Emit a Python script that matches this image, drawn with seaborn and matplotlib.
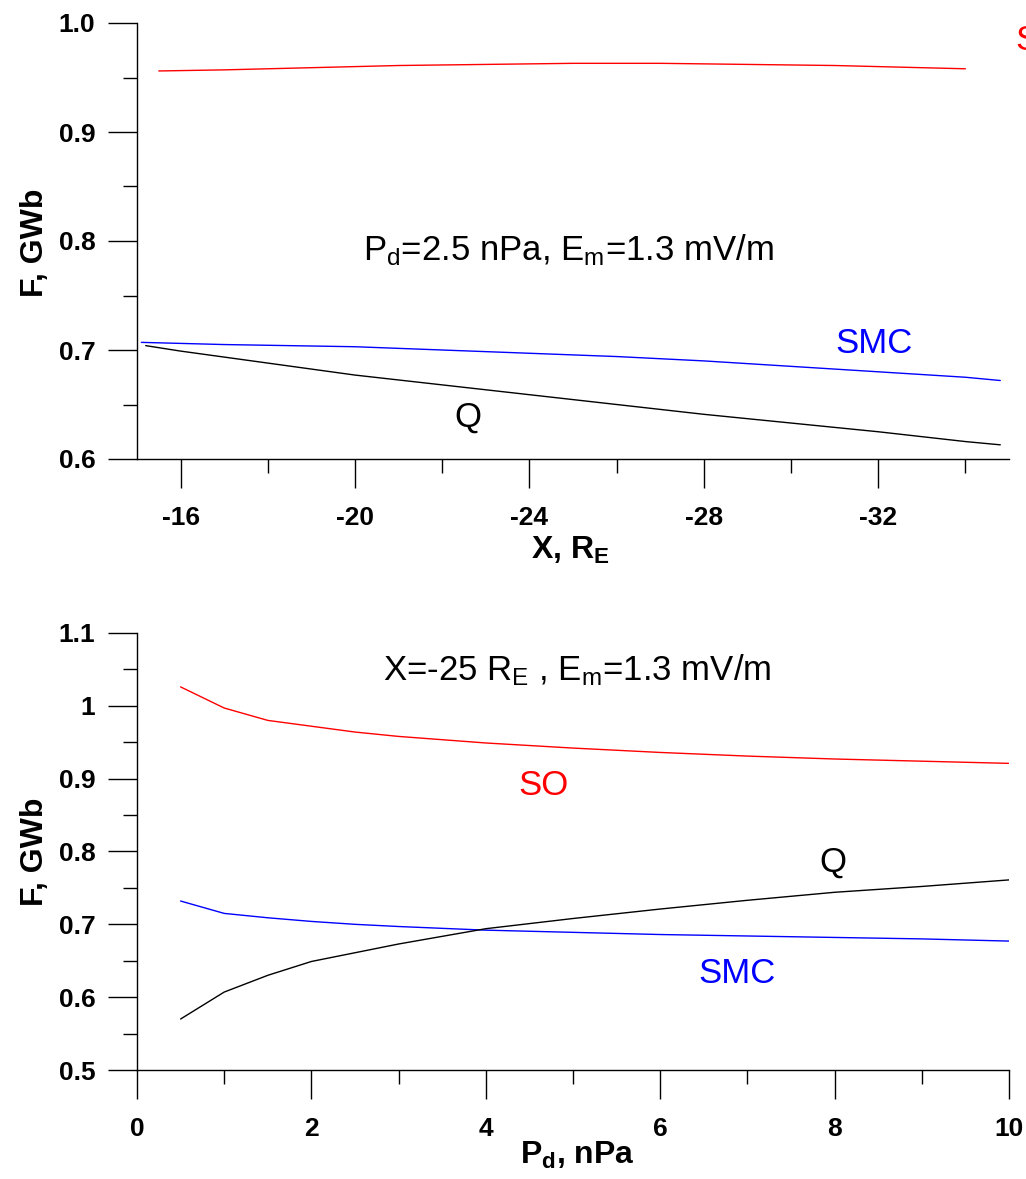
import matplotlib
matplotlib.use("Agg")
import matplotlib.pyplot as plt
from matplotlib.ticker import FixedLocator, MultipleLocator
import pandas as pd
import seaborn as sns

# ── Data ──────────────────────────────────────────────────────
# top panel: flux vs distance X (R_E), Pd = 2.5 nPa
x_so  = [-15.5, -17, -19, -21, -23, -25, -27, -29, -31, -33, -34]
f_so  = [0.956, 0.957, 0.959, 0.961, 0.962, 0.963, 0.963, 0.962, 0.961, 0.959, 0.958]
x_smc = [-15.1, -17, -20, -22, -24, -26, -28, -30, -32, -34, -34.8]
f_smc = [0.707, 0.705, 0.703, 0.700, 0.697, 0.694, 0.690, 0.685, 0.680, 0.675, 0.672]
x_q   = [-15.2, -16, -18, -20, -22, -24, -26, -28, -30, -32, -34, -34.8]
f_q   = [0.704, 0.699, 0.688, 0.677, 0.668, 0.659, 0.650, 0.641, 0.633, 0.625, 0.616, 0.613]

# bottom panel: flux vs dynamic pressure Pd (nPa), X = -25 R_E
pd_vals = [0.5, 1, 1.5, 2, 2.5, 3, 4, 5, 6, 7, 8, 9, 10]
g_so    = [1.026, 0.997, 0.980, 0.972, 0.964, 0.958, 0.949, 0.942, 0.936, 0.931, 0.927, 0.924, 0.921]
g_q     = [0.570, 0.607, 0.630, 0.649, 0.661, 0.673, 0.694, 0.708, 0.721, 0.733, 0.744, 0.752, 0.761]
g_smc   = [0.732, 0.715, 0.709, 0.704, 0.700, 0.697, 0.692, 0.689, 0.686, 0.684, 0.682, 0.680, 0.677]

top_yticks    = [0.6, 0.7, 0.8, 0.9, 1.0]
top_yticklbl  = ["0.6", "0.7", "0.8", "0.9", "1.0"]
bot_yticks    = [0.5, 0.6, 0.7, 0.8, 0.9, 1.0, 1.1]
bot_yticklbl  = ["0.5", "0.6", "0.7", "0.8", "0.9", "1", "1.1"]

COLORS = {"SO": "#ff0000", "SMC": "#0000ff", "Q": "#000000"}

# ── Style ─────────────────────────────────────────────────────
sns.set_style("ticks")
plt.rcParams["font.family"] = ["Liberation Sans", "DejaVu Sans"]
plt.rcParams["mathtext.default"] = "regular"
plt.rcParams["text.color"] = "black"
plt.rcParams["axes.labelcolor"] = "black"
plt.rcParams["xtick.color"] = "black"
plt.rcParams["ytick.color"] = "black"

fig = plt.figure(figsize=(10.26, 11.79), dpi=100)
ax1 = fig.add_axes([137 / 1026, 1 - 459 / 1179, 872 / 1026, 436 / 1179])
ax2 = fig.add_axes([137 / 1026, 1 - 1070 / 1179, 872 / 1026, 437 / 1179])

top = pd.concat([
    pd.DataFrame({"x": x_so, "f": f_so, "s": "SO"}),
    pd.DataFrame({"x": x_smc, "f": f_smc, "s": "SMC"}),
    pd.DataFrame({"x": x_q, "f": f_q, "s": "Q"}),
])
bot = pd.concat([
    pd.DataFrame({"x": pd_vals, "f": g_so, "s": "SO"}),
    pd.DataFrame({"x": pd_vals, "f": g_smc, "s": "SMC"}),
    pd.DataFrame({"x": pd_vals, "f": g_q, "s": "Q"}),
])

sns.lineplot(data=top, x="x", y="f", hue="s", palette=COLORS, sort=False,
             estimator=None, linewidth=1.0, legend=False, ax=ax1)
sns.lineplot(data=bot, x="x", y="f", hue="s", palette=COLORS, sort=False,
             estimator=None, linewidth=1.0, legend=False, ax=ax2)


def style_axes(ax):
    sns.despine(ax=ax)
    for sp in ("left", "bottom"):
        ax.spines[sp].set_linewidth(1.0)
        ax.spines[sp].set_color("black")
    ax.tick_params(which="major", length=21, width=1.0, color="black",
                   labelsize=19, labelcolor="black")
    ax.tick_params(which="minor", length=10, width=1.0, color="black")
    ax.tick_params(axis="x", which="major", pad=13)
    ax.tick_params(axis="y", which="major", pad=9)
    for lbl in ax.get_xticklabels() + ax.get_yticklabels():
        lbl.set_fontweight("bold")


# top panel
ax1.set_xlim(-15, -35)
ax1.set_ylim(0.6, 1.0)
ax1.set_xticks([-16, -20, -24, -28, -32], ["-16", "-20", "-24", "-28", "-32"])
ax1.xaxis.set_minor_locator(FixedLocator([-18, -22, -26, -30, -34]))
ax1.set_yticks(top_yticks, top_yticklbl)
ax1.yaxis.set_minor_locator(MultipleLocator(0.05))
style_axes(ax1)
ax1.set_xlabel("X, R$_E$", fontsize=23, fontweight="bold")
ax1.set_ylabel("F, GWb", fontsize=23, fontweight="bold")
ax1.xaxis.set_label_coords(0.497, -0.175)
ax1.yaxis.set_label_coords(-0.1, 0.495)

ax1.text(-24.9, 0.792, "P$_d$=2.5 nPa, E$_m$=1.3 mV/m", fontsize=25,
         ha="center", va="center")
ax1.text(-22.6, 0.638, "Q", fontsize=25, ha="center", va="center")
ax1.text(-31.9, 0.706, "SMC", fontsize=25, ha="center", va="center",
         color=COLORS["SMC"])
# label of the SO curve sits past the right edge, as in the source figure
ax1.text(-35.15, 0.984, "SO", fontsize=25, ha="left", va="center",
         color=COLORS["SO"], clip_on=False)

# bottom panel
ax2.set_xlim(0, 10)
ax2.set_ylim(0.5, 1.1)
ax2.set_xticks([0, 2, 4, 6, 8, 10], ["0", "2", "4", "6", "8", "10"])
ax2.xaxis.set_minor_locator(FixedLocator([1, 3, 5, 7, 9]))
ax2.set_yticks(bot_yticks, bot_yticklbl)
ax2.yaxis.set_minor_locator(MultipleLocator(0.05))
style_axes(ax2)
ax2.set_xlabel("P$_d$, nPa", fontsize=23, fontweight="bold")
ax2.set_ylabel("F, GWb", fontsize=23, fontweight="bold")
ax2.xaxis.set_label_coords(0.505, -0.16)
ax2.yaxis.set_label_coords(-0.1, 0.5)

ax2.text(5.05, 1.049, "X=-25 R$_E$ , E$_m$=1.3 mV/m", fontsize=25,
         ha="center", va="center")
ax2.text(4.66, 0.891, "SO", fontsize=25, ha="center", va="center",
         color=COLORS["SO"])
ax2.text(7.98, 0.785, "Q", fontsize=25, ha="center", va="center")
ax2.text(6.88, 0.633, "SMC", fontsize=25, ha="center", va="center",
         color=COLORS["SMC"])

fig.savefig("out.png", dpi=100)
